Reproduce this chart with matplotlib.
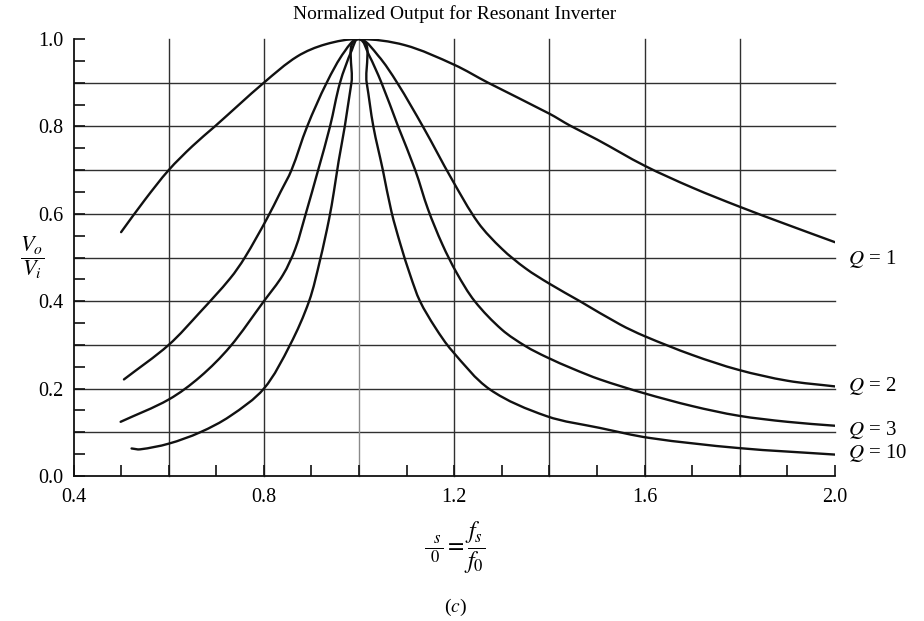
import matplotlib
matplotlib.use("Agg")
import matplotlib.pyplot as plt
from matplotlib.path import Path
from matplotlib.patches import PathPatch
import numpy as np

plt.rcParams['font.family'] = ['Liberation Serif', 'DejaVu Serif']
plt.rcParams['mathtext.fontset'] = 'stix'

# ---- data ----
q1_x = [0.50, 0.55, 0.60, 0.65, 0.697, 0.80, 0.87, 0.93, 1.00, 1.096, 1.20, 1.271, 1.40, 1.443, 1.50, 1.60, 1.70, 1.80, 1.90, 2.00]
q1_y = [0.558, 0.632, 0.700, 0.755, 0.800, 0.900, 0.960, 0.988, 1.000, 0.986, 0.941, 0.900, 0.829, 0.802, 0.770, 0.710, 0.660, 0.616, 0.575, 0.535]

q2_x = [0.506, 0.60, 0.666, 0.729, 0.76, 0.806, 0.835, 0.858, 0.891, 0.932, 0.97, 1.00,
        1.04, 1.08, 1.135, 1.195, 1.25, 1.30, 1.35, 1.40, 1.464, 1.548, 1.60, 1.70, 1.797, 1.90, 2.00]
q2_y = [0.221, 0.300, 0.375, 0.452, 0.500, 0.588, 0.650, 0.700, 0.800, 0.900, 0.972, 1.000,
        0.962, 0.900, 0.798, 0.679, 0.580, 0.520, 0.475, 0.440, 0.400, 0.347, 0.320, 0.277, 0.243, 0.218, 0.205]

q3_x = [0.499, 0.60, 0.666, 0.729, 0.80, 0.84, 0.866, 0.888, 0.914, 0.939, 0.960, 0.985, 1.00,
        1.02, 1.047, 1.082, 1.118, 1.145, 1.175, 1.205, 1.243, 1.30, 1.35, 1.394, 1.45, 1.506, 1.597, 1.70, 1.797, 1.90, 2.00]
q3_y = [0.124, 0.175, 0.227, 0.296, 0.400, 0.460, 0.520, 0.600, 0.700, 0.800, 0.900, 0.975, 1.000,
        0.965, 0.900, 0.800, 0.700, 0.610, 0.530, 0.465, 0.400, 0.335, 0.297, 0.272, 0.245, 0.221, 0.190, 0.160, 0.138, 0.124, 0.115]

q10_x = [0.522, 0.54, 0.60, 0.666, 0.729, 0.80, 0.855, 0.895, 0.918, 0.937, 0.947, 0.957, 0.970, 0.984, 1.00,
         1.016, 1.030, 1.050, 1.068, 1.087, 1.108, 1.128, 1.16, 1.195, 1.275, 1.394, 1.506, 1.611, 1.797, 2.00]
q10_y = [0.063, 0.061, 0.074, 0.100, 0.137, 0.200, 0.300, 0.400, 0.494, 0.588, 0.650, 0.720, 0.800, 0.900, 1.000,
         0.900, 0.800, 0.700, 0.605, 0.530, 0.458, 0.400, 0.340, 0.287, 0.198, 0.137, 0.110, 0.087, 0.064, 0.049]

curves = [(q1_x, q1_y), (q2_x, q2_y), (q3_x, q3_y), (q10_x, q10_y)]
q_labels = ["$Q$ = 1", "$Q$ = 2", "$Q$ = 3", "$Q$ = 10"]
q_label_y = [0.497, 0.205, 0.106, 0.053]

x_tick_labels = ["0.4", "0.8", "1.2", "1.6", "2.0"]
y_tick_labels = ["0.0", "0.2", "0.4", "0.6", "0.8", "1.0"]


def smooth_path(xs, ys, sx=476.0, sy=437.0):
    """Bezier path passing through the read points (drawn in data coordinates)."""
    P = np.column_stack([np.asarray(xs) * sx, np.asarray(ys) * sy])
    n = len(P)
    D = np.zeros_like(P)
    for i in range(n):
        a = P[max(i - 1, 0)]
        b = P[min(i + 1, n - 1)]
        d = b - a
        D[i] = d / np.hypot(*d)
    verts = [P[0]]
    codes = [Path.MOVETO]
    for i in range(n - 1):
        L = np.hypot(*(P[i + 1] - P[i]))
        verts += [P[i] + D[i] * L / 3, P[i + 1] - D[i + 1] * L / 3, P[i + 1]]
        codes += [Path.CURVE4] * 3
    V = np.array(verts)
    V[:, 0] /= sx
    V[:, 1] /= sy
    return Path(V, codes)


# ---- figure ----
fig = plt.figure(figsize=(9.24, 6.21), dpi=100)
ax = fig.add_axes([73.5/924, 1-476/621, (835-73.5)/924, (476-39)/621])
ax.set_xlim(0.4, 2.0)
ax.set_ylim(0.0, 1.0)

dark = '#303030'
for yv in np.arange(0.1, 0.95, 0.1):
    ax.plot([0.4, 2.0], [yv, yv], color=dark, lw=1.0, zorder=1, clip_on=False)
for xv in [0.6, 0.8, 1.0, 1.2, 1.4, 1.6, 1.8]:
    c = '#8a8a8a' if abs(xv-1.0) < 1e-9 else dark
    ax.plot([xv, xv], [0, 1.0], color=c, lw=1.0, zorder=1, clip_on=False)

for (xs, ys) in curves:
    ax.add_patch(PathPatch(smooth_path(xs, ys), facecolor='none', edgecolor='#111111',
                           lw=1.7, zorder=3, capstyle='round', joinstyle='round'))

for lab, yv in zip(q_labels, q_label_y):
    ax.text(2.027, yv, lab, fontsize=15, va='center', ha='left', clip_on=False)

for s in ['top', 'right']:
    ax.spines[s].set_visible(False)
for s in ['left', 'bottom']:
    ax.spines[s].set_linewidth(1.3)
    ax.spines[s].set_color('#111111')

xt = np.round(np.arange(0.4, 2.0001, 0.1), 2)
ax.set_xticks(xt)
ax.set_xticklabels([x_tick_labels[i // 4] if i % 4 == 0 else "" for i in range(len(xt))])
yt = np.round(np.arange(0.0, 1.0001, 0.05), 2)
ax.set_yticks(yt)
ax.set_yticklabels([y_tick_labels[i // 4] if i % 4 == 0 else "" for i in range(len(yt))])
ax.tick_params(axis='both', direction='in', length=8, width=1.2, color='#111111', labelsize=14.5)
ax.tick_params(axis='x', pad=9)
ax.tick_params(axis='y', pad=7)

fig.text(455/924, 1-14/621, "Normalized Output for Resonant Inverter", ha='center', va='center', fontsize=14)
fig.text(32/924, 1-258/621, r"$\dfrac{V_o}{V_i}$", ha='center', va='center', fontsize=16)
fig.text(455/924, 1-548/621, r"$\dfrac{\;\;_s}{\;_0} = \dfrac{f_s}{f_0}$", ha='center', va='center', fontsize=17)
fig.text(455/924, 1-607/621, "($c$)", ha='center', va='center', fontsize=14)

fig.savefig("out.png", dpi=100)
